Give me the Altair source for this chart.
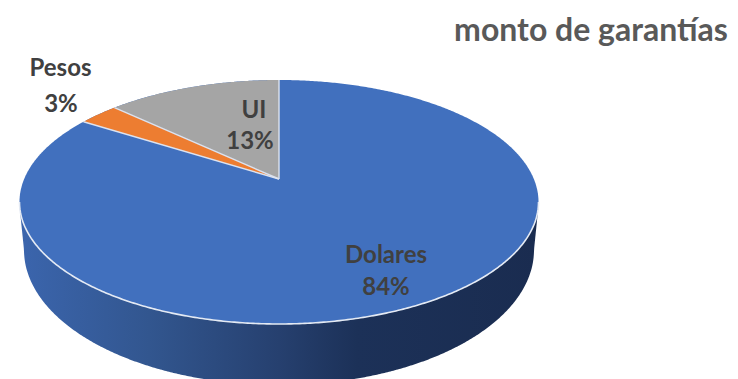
import numpy as np
import pandas as pd
import altair as alt

# --- chart content ---
categories = ["UI", "Pesos", "Dolares"]
shares = [13, 3, 84]
colors = ["#A5A5A5", "#ED7D31", "#4170BE"]
title_text = "monto de garantías"

# --- layout of the tilted pie (page pixels) ---
CX, R, PERSP, A, B = 279.0, 254.9, 0.1885, -83.92, 179.0   # perspective of the top disc
TOP_CY, TOP_RX, TOP_RY = 202.0, 259.5, 122.0
BOT_CY, BOT_RX, BOT_RY = 250.0, 255.0, 135.0
W, H = 722, 371


def project(share_pct):
    """Point on the rim of the disc after share_pct percent, going anticlockwise from the top."""
    th = np.radians(share_pct * 3.6)
    u, v = -np.sin(th), np.cos(th)
    d = 1 + PERSP * v
    return CX + R * u / d, (A * v + B) / d


def rim(x, sign):
    k = np.sqrt(np.clip(1 - ((x - CX) / TOP_RX) ** 2, 0, 1))
    return TOP_CY + sign * TOP_RY * k


def bottom(x):
    k = np.sqrt(np.clip(1 - ((x - CX) / BOT_RX) ** 2, 0, 1))
    y = BOT_CY + BOT_RY * k
    # short, nearly vertical ends between the two ellipses
    out = np.abs(x - CX) > BOT_RX
    frac = (np.abs(x - CX) - BOT_RX) / (TOP_RX - BOT_RX)
    y[out] = (BOT_CY + (TOP_CY + 4 - BOT_CY) * frac[out])
    return y


def chord(x, p):
    return B + (p[1] - B) * (x - CX) / (p[0] - CX)


def spaced(a, b, n=160):
    t = (1 - np.cos(np.linspace(0, np.pi, n))) / 2
    return a + (b - a) * t


p_g = project(shares[0])
p_b = project(shares[0] + shares[1])

# disc
xs = spaced(CX - TOP_RX, CX + TOP_RX, 400)
disc = pd.DataFrame({"x": xs, "y": rim(xs, 1), "y2": rim(xs, -1)})

# side wall
xw = spaced(CX - TOP_RX, CX + TOP_RX, 500)
wall = pd.DataFrame({"x": xw, "y": rim(xw, 1), "y2": bottom(xw)})

# slices
xg = np.linspace(p_g[0], CX, 160)
gray = pd.DataFrame({"x": xg, "y": chord(xg, p_g), "y2": rim(xg, -1)})
xo1 = np.linspace(p_b[0], p_g[0], 30)
xo2 = np.linspace(p_g[0], CX, 60)
orange = pd.concat([
    pd.DataFrame({"x": xo1, "y": chord(xo1, p_b), "y2": rim(xo1, -1)}),
    pd.DataFrame({"x": xo2, "y": chord(xo2, p_b), "y2": chord(xo2, p_g)}),
])

# separators
rim_x = spaced(CX - TOP_RX, CX + TOP_RX, 300)
rim_line = pd.DataFrame({"x": rim_x, "y": rim(rim_x, 1)})
seps = pd.DataFrame({
    "x": [p_g[0], CX, p_b[0], CX, CX, CX],
    "y": [p_g[1], B, p_b[1], B, rim(np.array([CX]), -1)[0], B],
    "k": ["a", "a", "b", "b", "c", "c"],
})

labels = pd.DataFrame({
    "t": ["Pesos", "3%", "UI", "13%", "Dolares", "84%"],
    "x": [60.5, 61, 254, 250, 386, 386],
    "y": [68.5, 104.5, 110.5, 141.5, 255.5, 287.5],
})
title_df = pd.DataFrame({"t": [title_text], "x": [591], "y": [30.5]})

X = alt.Scale(domain=[8, 8 + W])
Y = alt.Scale(domain=[8 + H, 8])
x_q = alt.X("x:Q", scale=X, axis=None)
y_q = alt.Y("y:Q", scale=Y, axis=None)
y2_q = alt.Y2("y2:Q")

wall_grad = alt.Gradient(
    gradient="linear", x1=0, x2=1, y1=0, y2=0,
    stops=[
        alt.GradientStop(offset=0.0, color="#3B65AD"),
        alt.GradientStop(offset=0.25, color="#32568F"),
        alt.GradientStop(offset=0.5, color="#26406F"),
        alt.GradientStop(offset=0.65, color="#1C3158"),
        alt.GradientStop(offset=1.0, color="#1A2C50"),
    ],
)

layers = [
    alt.Chart(wall).mark_area(color=wall_grad, clip=True, interpolate="linear")
    .encode(x=x_q, y=y_q, y2=y2_q),
    alt.Chart(disc).mark_area(color=colors[2], clip=True).encode(x=x_q, y=y_q, y2=y2_q),
    alt.Chart(gray).mark_area(color=colors[0], clip=True).encode(x=x_q, y=y_q, y2=y2_q),
    alt.Chart(orange).mark_area(color=colors[1], clip=True).encode(x=x_q, y=y_q, y2=y2_q),
    alt.Chart(rim_line).mark_line(color="#E4EAF4", strokeWidth=1.6, clip=True).encode(x=x_q, y=y_q),
    alt.Chart(seps).mark_line(color="#DCE3F0", strokeWidth=1.4, clip=True)
    .encode(x=x_q, y=y_q, detail="k:N", order=alt.Order("y:Q")),
    alt.Chart(labels).mark_text(font="Lato", fontWeight="bold", fontSize=24, color="#404040")
    .encode(x=x_q, y=y_q, text="t:N"),
    alt.Chart(title_df).mark_text(font="Lato", fontWeight="bold", fontSize=32, color="#595959")
    .encode(x=x_q, y=y_q, text="t:N"),
]

chart = (
    alt.layer(*layers)
    .properties(width=W, height=H, padding=0, background="white",
                autosize=alt.AutoSizeParams(type="none"))
    .configure_view(stroke=None)
)

chart.save("out.html", embed_options={"renderer": "svg", "actions": False})
